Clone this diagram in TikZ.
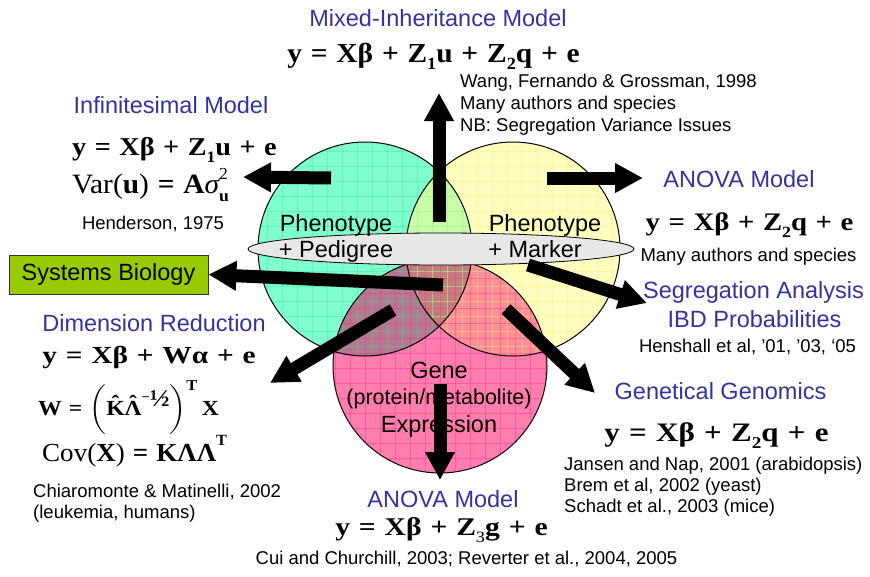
\documentclass[tikz,border=0pt]{standalone}
\usepackage{fontspec}
\usepackage{amsmath}
\setmainfont{Liberation Sans}
\newfontfamily\eqfont{Liberation Serif}
\usetikzlibrary{arrows.meta}
\definecolor{ttl}{RGB}{51,51,160}
\definecolor{cgreen}{RGB}{128,255,204}
\definecolor{cgreenL}{RGB}{50,235,150}
\definecolor{cyel}{RGB}{255,255,192}
\definecolor{cyelL}{RGB}{240,240,120}
\definecolor{cpink}{RGB}{255,125,175}
\definecolor{cpinkL}{RGB}{255,40,140}
\definecolor{cgy}{RGB}{200,255,170}
\definecolor{cgp}{RGB}{180,120,145}
\definecolor{cyp}{RGB}{255,145,150}
\definecolor{cgyp}{RGB}{195,125,125}
\definecolor{sysg}{RGB}{153,204,0}
\definecolor{ellg}{RGB}{232,232,232}
\newcommand{\op}[1]{\hspace{0.3em}#1\hspace{0.3em}}
\newcommand{\lo}[1]{\raisebox{-0.28em}{\scalebox{0.62}{#1}}}
\newcommand{\hatt}[1]{\ooalign{#1\cr\hidewidth\raisebox{0.2em}{ˆ}\hidewidth\cr}}
\tikzset{
  ttl/.style={text=ttl, font=\fontsize{23.5}{28}\selectfont, inner sep=0, anchor=base},
  cite/.style={font=\fontsize{18.5}{22}\selectfont, inner sep=0, anchor=base},
  citeL/.style={font=\fontsize{18.5}{22}\selectfont, inner sep=0, anchor=base west},
  eqn/.style={font=\eqfont\bfseries\fontsize{#1}{#1}\selectfont, inner sep=0, anchor=base},
  eqn/.default=25,
  ctext/.style={font=\fontsize{23.5}{28}\selectfont, inner sep=0, anchor=base},
  bigarrow/.style={line width=13pt, -{Triangle[length=28pt,width=28pt]}},
  gridline/.style={line width=0.5pt, opacity=0.4},
}
\begin{document}
\begin{tikzpicture}[x=1pt,y=-1pt]
\useasboundingbox (0,0) rectangle (870,576);
% centers
\coordinate (cG) at (365,249);
\coordinate (cY) at (513,249);
\coordinate (cP) at (440,366);
\def\R{107}
% base fills
\fill[cgreen] (cG) circle (\R);
\fill[cyel] (cY) circle (\R);
\begin{scope}\clip (cG) circle (\R); \fill[cgy] (cY) circle (\R); \end{scope}
\fill[cpink] (cP) circle (\R);
\begin{scope}\clip (cP) circle (\R); \fill[cgp] (cG) circle (\R); \fill[cyp] (cY) circle (\R);
  \clip (cG) circle (\R); \fill[cgyp] (cY) circle (\R); \end{scope}
% grids
\begin{scope}\clip (cG) circle (\R);
  \foreach \g in {252,267,...,480} \draw[gridline,cgreenL] (\g,130) -- (\g,370);
  \foreach \g in {136,151,...,365} \draw[gridline,cgreenL] (250,\g) -- (480,\g);
\end{scope}
\begin{scope}\clip (cY) circle (\R);
  \foreach \g in {402,417,...,625} \draw[gridline,cyelL] (\g,130) -- (\g,370);
  \foreach \g in {136,151,...,365} \draw[gridline,cyelL] (400,\g) -- (630,\g);
\end{scope}
\begin{scope}\clip (cP) circle (\R);
  \foreach \g in {335,350,...,555} \draw[gridline,cpinkL] (\g,250) -- (\g,480);
  \foreach \g in {263,278,...,480} \draw[gridline,cpinkL] (325,\g) -- (560,\g);
\end{scope}
% outlines
\draw[line width=1pt] (cG) circle (\R);
\draw[line width=1pt] (cY) circle (\R);
\draw[line width=1pt] (cP) circle (\R);
% ellipse
\draw[fill=ellg, line width=0.8pt] (441,249) ellipse (193 and 16);
% circle texts
\node[ctext] (phL) at (336,231) {Phenotype};
\node[ctext] (pedL) at (336,257) {+ Pedigree};
\node[ctext] (phR) at (545,231) {Phenotype};
\node[ctext] (mkR) at (535,257) {+ Marker};
\node[ctext] (gene) at (439,378) {Gene};
\node[ctext, font=\fontsize{21.5}{26}\selectfont] (prot) at (439,404) {(protein/metabolite)};
\node[ctext] (expr) at (439,432) {Expression};
% Mixed inheritance
\node[ttl] (mixT) at (438,26) {Mixed-Inheritance Model};
\node[eqn=27.5] (mixE) at (433.5,62) {\scalebox{1.07}[1]{y\op{=}Xβ\op{+}Z\lo{1}u\op{+}Z\lo{2}q\op{+}e}};
\node[citeL] (wang1) at (460,87) {Wang, Fernando \& Grossman, 1998};
\node[citeL] (wang2) at (460,109) {Many authors and species};
\node[citeL] (wang3) at (460,131.5) {NB: Segregation Variance Issues};
% Infinitesimal
\node[ttl] (infT) at (171,113) {Infinitesimal Model};
\node[eqn=25.7] (infE) at (174.5,155) {\scalebox{1.1}[1]{y\op{=}Xβ\op{+}Z\lo{1}u\op{+}e}};
\node[eqn=28, anchor=base west] (varE) at (72,193) {\scalebox{1.05}[1]{{\mdseries Var(}u{\mdseries )}\op{=}A{\mdseries\itshape σ}\rlap{\raisebox{0.5em}{\scalebox{0.6}{\mdseries 2}}}\raisebox{-0.3em}{\scalebox{0.6}{u}}}};
\node[cite] (hend) at (153,229) {Henderson, 1975};
% ANOVA right
\node[ttl] (anoT) at (739,187) {ANOVA Model};
\node[eqn=25.2] (anoE) at (749.5,230) {\scalebox{1.14}[1]{y\op{=}Xβ\op{+}Z\lo{2}q\op{+}e}};
\node[cite] (anoC) at (748.5,261) {Many authors and species};
% Segregation
\node[ttl] (segT) at (753.5,298) {Segregation Analysis};
\node[ttl] (ibd) at (754.5,327) {IBD Probabilities};
\node[cite] (hensh) at (747.5,352) {Henshall et al, ’01, ’03, ‘05};
% Systems biology
\node[draw=black!80, fill=sysg, line width=0.8pt, minimum width=199pt, minimum height=39pt, inner sep=0, font=\fontsize{23.5}{28}\selectfont] (sysB) at (108.5,274.5) {Systems Biology};
% Dimension reduction
\node[ttl] (dimT) at (154,331) {Dimension Reduction};
\node[eqn=24.5] (dimE) at (149,363) {\scalebox{1.2}[1]{y\op{=}Xβ\op{+}Wα\op{+}e}};
\node[eqn=21.5, anchor=base west] (wE) at (38,415) {\scalebox{1.1}[1]{W\op{=}$\left(\rule[-0.8em]{0pt}{1.9em}\text{\hatt{K}\hatt{Λ}\raisebox{0.62em}{\fontsize{13}{13}\selectfont −}\raisebox{0.4em}{\fontsize{24}{24}\selectfont ½}}\right)^{\text{T}}$\,X}};
\node[eqn=26, anchor=base west] (covE) at (42,461) {\scalebox{1.04}[1]{{\mdseries Cov(}X{\mdseries )}\op{=}KΛΛ\raisebox{0.6em}{\scalebox{0.6}{T}}}};
\node[citeL] (chia1) at (33,497) {Chiaromonte \& Matinelli, 2002};
\node[citeL] (chia2) at (33,518.5) {(leukemia, humans)};
% Genetical genomics
\node[ttl] (genT) at (720.5,399) {Genetical Genomics};
\node[eqn=26.7] (genE) at (716.5,441) {\scalebox{1.16}[1]{y\op{=}Xβ\op{+}Z\lo{2}q\op{+}e}};
\node[citeL] (jan1) at (564,470) {Jansen and Nap, 2001 (arabidopsis)};
\node[citeL] (jan2) at (564,491) {Brem et al, 2002 (yeast)};
\node[citeL] (jan3) at (564,512) {Schadt et al., 2003 (mice)};
% ANOVA bottom
\node[ttl] (anoB) at (443,507) {ANOVA Model};
\node[eqn=25.5] (anoBE) at (441.5,535) {\scalebox{1.16}[1]{y\op{=}Xβ\op{+}Z\lo{\mdseries 3}g\op{+}e}};
\node[cite] (cui) at (466.5,564) {Cui and Churchill, 2003; Reverter et al., 2004, 2005};
% arrow end points
\coordinate (aUpS) at (439,222);   \coordinate (aUpE) at (439,93);
\coordinate (aLS) at (331,178);    \coordinate (aLE) at (243,177);
\coordinate (aRS) at (547,178);    \coordinate (aRE) at (643,178);
\coordinate (aSbS) at (443,285);
\coordinate (aSgS) at (528,265);   \coordinate (aSgE) at (647,303);
\coordinate (aDmS) at (393,310);   \coordinate (aDmE) at (270,383);
\coordinate (aGgS) at (506,309);   \coordinate (aGgE) at (595,393);
\coordinate (aDnS) at (440,384);   \coordinate (aDnE) at (440,480);
\draw[bigarrow] (aUpS) -- (aUpE);
\draw[bigarrow] (aLS) -- (aLE);
\draw[bigarrow] (aRS) -- (aRE);
\draw[bigarrow] (aSbS) -- (sysB.east);
\draw[bigarrow] (aSgS) -- (aSgE);
\draw[bigarrow] (aDmS) -- (aDmE);
\draw[bigarrow] (aGgS) -- (aGgE);
\draw[bigarrow] (aDnS) -- (aDnE);
\end{tikzpicture}
\end{document}
